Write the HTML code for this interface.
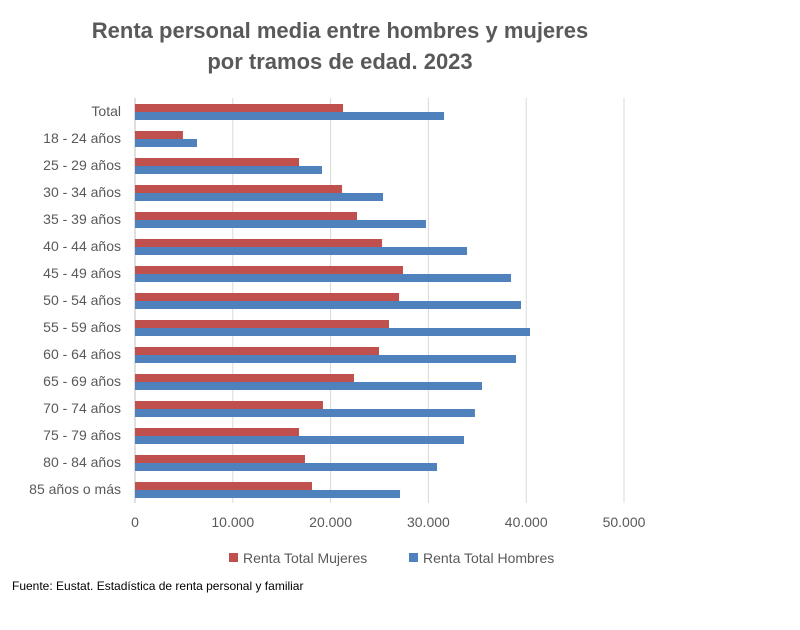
<!DOCTYPE html>
<html><head><meta charset="utf-8"><style>
body{margin:0;background:#fff;font-family:"Liberation Sans",sans-serif}
</style></head><body>
<svg width="800" height="625" viewBox="0 0 800 625">
<text x="340" y="38" text-anchor="middle" font-size="22" font-weight="bold" fill="#595959">Renta personal media entre hombres y mujeres</text>
<text x="340" y="69" text-anchor="middle" font-size="22" font-weight="bold" fill="#595959">por tramos de edad. 2023</text>
<g id="grid"></g><g id="bars"></g><g id="labels"></g>
<g>
<rect x="229" y="553" width="9" height="9" fill="#c0504d"/>
<text x="243" y="563" font-size="14" fill="#595959">Renta Total Mujeres</text>
<rect x="409" y="553" width="9" height="9" fill="#4f81bd"/>
<text x="423" y="563" font-size="14" fill="#595959">Renta Total Hombres</text>
</g>
<text x="12" y="590" font-size="12" fill="#000">Fuente: Eustat. Estadística de renta personal y familiar</text>
</svg>
<script>
const categories=["Total","18 - 24 años","25 - 29 años","30 - 34 años","35 - 39 años","40 - 44 años","45 - 49 años","50 - 54 años","55 - 59 años","60 - 64 años","65 - 69 años","70 - 74 años","75 - 79 años","80 - 84 años","85 años o más"];
const mujeres=[21270,4900,16770,21170,22700,25260,27400,27000,25970,24950,22390,19220,16770,17380,18100];
const hombres=[31600,6340,19120,25360,29750,33950,38450,39470,40390,38960,35480,34760,33640,30880,27100];
const ticks=[0,10000,20000,30000,40000,50000];
const tickLabels=["0","10.000","20.000","30.000","40.000","50.000"];
const NS="http://www.w3.org/2000/svg";
const x0=135,pxPer=(624-135)/50000,top0=98,rowH=27;
const X=v=>x0+v*pxPer;
const Y=i=>top0+i*rowH;
function mk(t,a,p){const e=document.createElementNS(NS,t);for(const k in a)e.setAttribute(k,a[k]);p.appendChild(e);return e;}
const grid=document.getElementById('grid'),bars=document.getElementById('bars'),labels=document.getElementById('labels');
ticks.forEach((t,i)=>{
 if(i>0){const l=mk('line',{x1:X(t),x2:X(t),y1:top0,y2:top0+rowH*categories.length,stroke:'#d9d9d9','stroke-width':1},grid);
 
 }
 const tx=mk('text',{x:X(t),y:527,'text-anchor':'middle','font-size':14,fill:'#595959'},labels);
 tx.textContent=tickLabels[i];
 
 
});
const ax=mk('line',{x1:x0,x2:x0,y1:top0,y2:top0+rowH*categories.length,stroke:'#bfbfbf','stroke-width':1},grid);


categories.forEach((c,i)=>{
 const y=Y(i);
 const m=mk('rect',{x:x0,y:y+6,width:X(mujeres[i])-x0,height:8,fill:'#c0504d'},bars);
 
 
 const h=mk('rect',{x:x0,y:y+14,width:X(hombres[i])-x0,height:8,fill:'#4f81bd'},bars);
 
 
 const t=mk('text',{x:121,y:y+18,'text-anchor':'end','font-size':14,fill:'#595959'},labels);
 t.textContent=c;
 
 
});
</script>
</body></html>
